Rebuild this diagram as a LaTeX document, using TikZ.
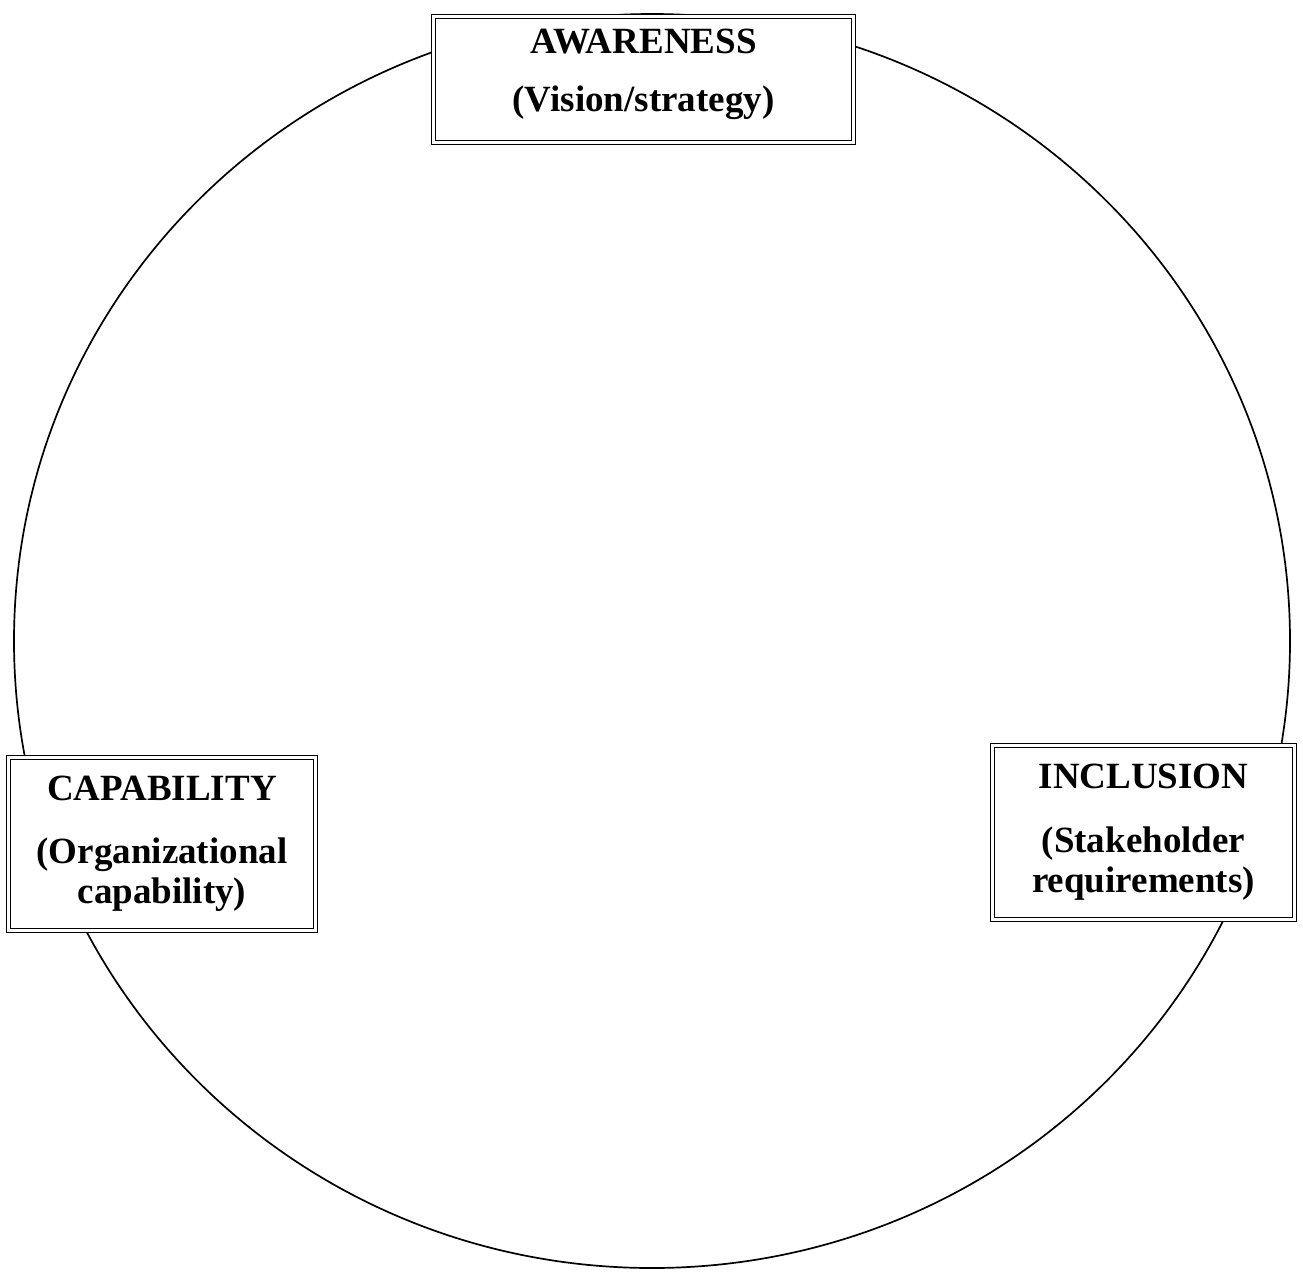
\documentclass[tikz,border=0pt]{standalone}
\usepackage{fontspec}
\setmainfont{Liberation Serif}
\usetikzlibrary{positioning}
\tikzset{
  stage/.style={draw,line width=1.1pt,double,double distance=2.6pt,fill=white,
    align=center,inner sep=0pt,font=\fontsize{37}{40}\selectfont\bfseries},
}

\begin{document}
\begin{tikzpicture}[x=1pt,y=-1pt,
   cyc/.style={line width=1.7pt}]
  \useasboundingbox (0,0) rectangle (1303,1272);
  \draw[cyc] (652,641) ellipse [x radius=638pt,y radius=627pt];
  \node[stage,minimum width=420pt,minimum height=126pt,text depth=19pt] (aware) at (643.5,79.5)
    {AWARENESS\\[18pt](Vision/strategy)};
  \node[stage,minimum width=307pt,minimum height=173pt] (capab) at (162,844)
    {CAPABILITY\\[23pt](Organizational\\capability)};
  \node[stage,minimum width=302pt,minimum height=174pt] (incl) at (1143.5,832.5)
    {INCLUSION\\[24pt](Stakeholder\\requirements)};
\end{tikzpicture}
\end{document}
